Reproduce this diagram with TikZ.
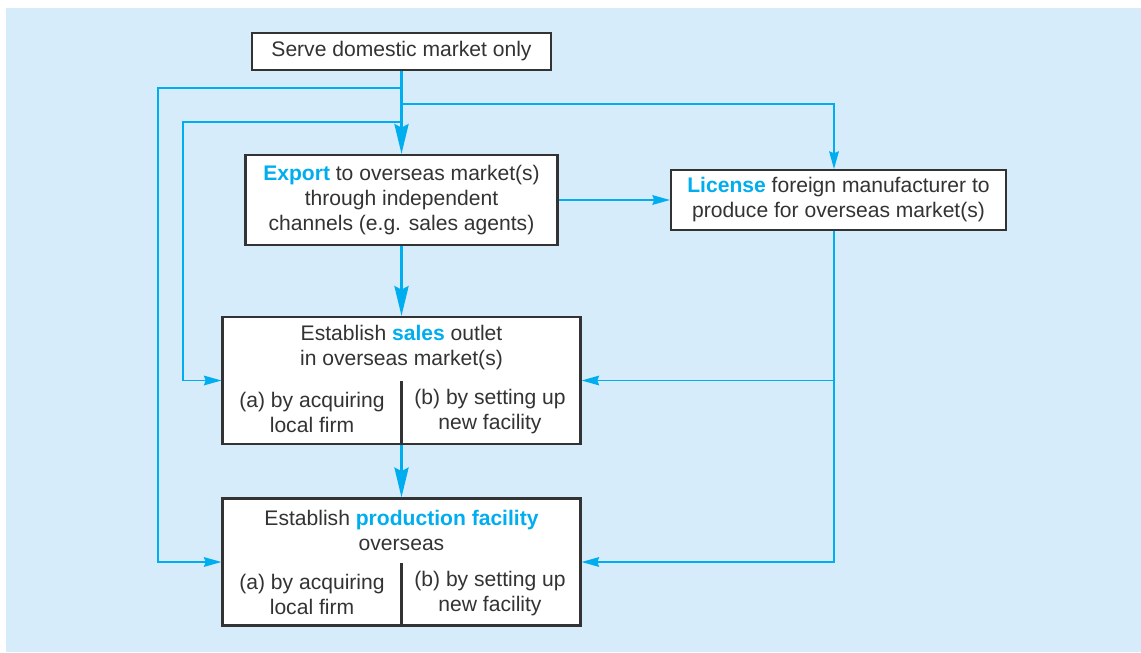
\documentclass[tikz,border=0pt]{standalone}
\usepackage{fontspec}
\setmainfont{Liberation Sans}
\usetikzlibrary{arrows.meta, positioning}
\definecolor{chartcyan}{RGB}{0,174,239}
\definecolor{chartbg}{RGB}{214,236,250}
\definecolor{chartink}{RGB}{51,51,51}
\newcommand{\hl}[1]{\textcolor{chartcyan}{\textbf{#1}}}

\begin{document}
\begin{tikzpicture}[x=0.02cm, y=-0.02cm, font=\fontsize{12}{14.2}\selectfont, text=chartink]
        \tikzstyle{stage} = [rectangle, draw=chartink, line width=1.2pt, fill=white, align=center, inner sep=0pt]
        \tikzstyle{boxtext} = [align=center, inner sep=0pt]
        \tikzstyle{divider} = [draw=chartink, line width=1.2pt]
        \tikzstyle{mainflow} = [chartcyan, line width=1.7pt, -{Stealth[length=17pt, width=8pt, inset=2pt]}]
        \tikzstyle{sideflow} = [chartcyan, line width=0.9pt, -{Stealth[length=10pt, width=5.5pt, inset=1pt]}]

        \useasboundingbox (0,0) rectangle (1141,652);
        \fill [chartbg] (6,8) rectangle (1141,652);

        \node (serve) [stage, minimum width=5.98cm, minimum height=0.74cm] at (401.5,51.5) {Serve domestic market only};
        \node (export) [stage, minimum width=6.24cm, minimum height=1.8cm] at (401.5,200) {\hl{Export} to overseas market(s)\\through independent\\channels (e.g. sales agents)};
        \node (license) [stage, minimum width=6.7cm, minimum height=1.2cm] at (838.5,200) {\hl{License} foreign manufacturer to\\produce for overseas market(s)};

        \node (sales) [stage, minimum width=7.16cm, minimum height=2.54cm] at (401.5,380.5) {};
        \node (salestop) [boxtext] at (401.5,348) {Establish \hl{sales} outlet\\in overseas market(s)};
        \node (salesa) [boxtext] at (312,412) {(a) by acquiring\\local firm};
        \node (salesb) [boxtext] at (490,412) {(b) by setting up\\new facility};
        \coordinate (salessplit) at (401.5,381);

        \node (prod) [stage, minimum width=7.16cm, minimum height=2.54cm] at (401.5,562) {};
        \node (prodtop) [boxtext] at (401.5,530) {Establish \hl{production facility}\\overseas};
        \node (proda) [boxtext] at (312,594) {(a) by acquiring\\local firm};
        \node (prodb) [boxtext] at (490,594) {(b) by setting up\\new facility};
        \coordinate (prodsplit) at (401.5,562.5);

        \draw [divider] (sales.south) -- (salessplit);
        \draw [divider] (prod.south) -- (prodsplit);

        % branch points on the main line
        \coordinate (jointprod) at (401.5,88);
        \coordinate (jointlic) at (401.5,104);
        \coordinate (jointsales) at (401.5,122);
        \coordinate (bendprod) at (158,88);
        \coordinate (bendsales) at (183,122);

        \draw [sideflow] (jointprod) -- (bendprod) |- (prod.west);
        \draw [sideflow] (jointsales) -- (bendsales) |- (sales.west);
        \draw [sideflow] (jointlic) -| ([xshift=-0.09cm]license.north);
        \draw [sideflow] (export) -- (license);
        \draw [sideflow] ([xshift=-0.09cm]license.south) |- (sales.east);
        \draw [sideflow] ([xshift=-0.09cm]license.south) |- (prod.east);

        \draw [mainflow] (serve) -- (export);
        \draw [mainflow] (export) -- (sales);
        \draw [mainflow] (sales) -- (prod);
    \end{tikzpicture}
\end{document}
